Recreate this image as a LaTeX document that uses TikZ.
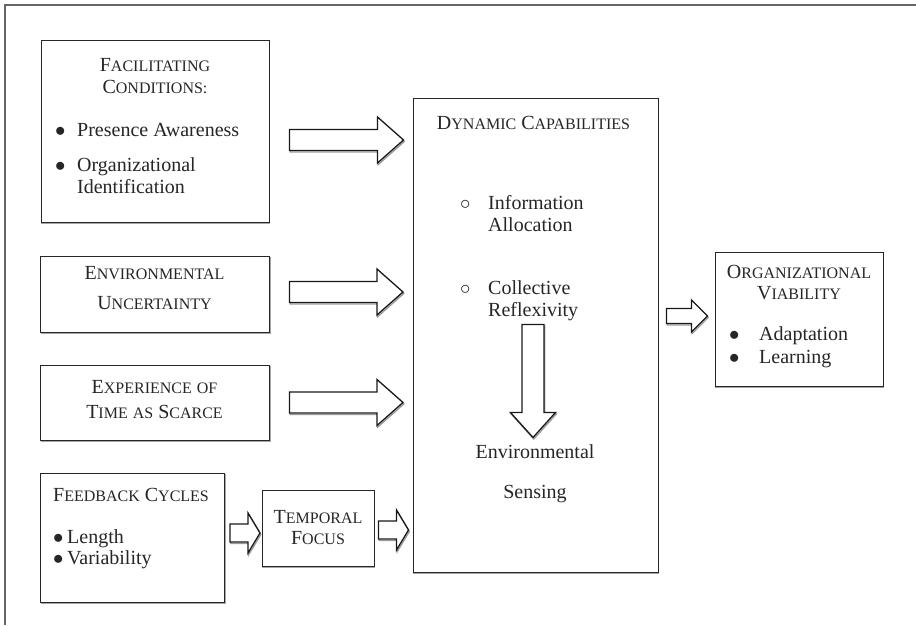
\documentclass[tikz,border=0pt]{standalone}
\usepackage{fontspec}
\setmainfont{Liberation Serif}
\usetikzlibrary{positioning,calc}

% small caps by hand: first letter full size, the rest smaller
\newcommand{\capt}[2]{#1{\fontsize{16}{22}\selectfont #2}}
% hollow block arrow: [rotation] {start} {length} {shaft half} {head half} {head length}
\newcommand{\fatarrow}[6][0]{%
  \draw[fat, shift={#2}, rotate=#1] (0pt,#4pt) -- ({#3pt-#6pt},#4pt) -- ({#3pt-#6pt},#5pt)
    -- (#3pt,0pt) -- ({#3pt-#6pt},-#5pt) -- ({#3pt-#6pt},-#4pt) -- (0pt,-#4pt) -- cycle;}

\tikzset{
  box/.style={draw=black!85, line width=1pt, fill=white,
    preaction={draw=black!35, line width=1pt, transform canvas={shift={(0.6pt,-1pt)}}}},
  txt/.style={text=black!85, font=\fontsize{20}{22}\selectfont, inner sep=0pt},
  fat/.style={draw=black!90, fill=white, line width=1.3pt, line join=miter,
    preaction={draw=black!40, line width=1.3pt, transform canvas={shift={(0.8pt,-1.5pt)}}}},
  frame/.style={draw=black!60, line width=1.6pt}
}

\begin{document}
\begin{tikzpicture}[x=1pt, y=-1pt]
  \useasboundingbox (0,0) rectangle (916,625);
  \draw[frame] (5,625) -- (5,5) -- (916,5);

  % boxes
  \node[box, minimum width=228pt, minimum height=182pt] (fac) at (155,131) {};
  \node[box, minimum width=229pt, minimum height=76pt, below=33pt of fac] (env) {};
  \node[box, minimum width=229pt, minimum height=75pt, below=32pt of env] (exp) {};
  \node[box, minimum width=184pt, minimum height=129pt, below=32pt of exp.south west, anchor=north west] (fb) {};
  \node[box, minimum width=112pt, minimum height=76pt] (tmp) at (318,528) {};
  \node[box, minimum width=245pt, minimum height=474pt] (dyn) at (535.5,335) {};
  \node[box, minimum width=168pt, minimum height=134pt] (org) at (799,319) {};

  % texts (multi-line nodes sit on their last line)
  \node[txt, align=center, anchor=base] (factitle) at (155,93) {\capt{F}{ACILITATING}\\\capt{C}{ONDITIONS:}};
  \node[txt, anchor=base west] (faclist) at (55,136.5) {\begin{tabular}[t]{@{}p{22pt}@{}l@{}}
    $\bullet$ & Presence Awareness\\[13pt]
    $\bullet$ & Organizational\\
              & Identification
  \end{tabular}};
  \node[txt, align=center, anchor=base] (envtitle) at (154.5,309) {\capt{E}{NVIRONMENTAL}\\[8pt]\capt{U}{NCERTAINTY}};
  \node[txt, align=center, anchor=base] (exptitle) at (154.5,418) {\capt{E}{XPERIENCE} {\fontsize{16}{22}\selectfont OF}\\[3pt]\capt{T}{IME} {\fontsize{16}{22}\selectfont AS} \capt{S}{CARCE}};
  \node[txt, anchor=base west] (fbtitle) at (53,501) {\capt{F}{EEDBACK} \capt{C}{YCLES}};
  \node[txt, anchor=base west] (fblist) at (53,543.5) {\begin{tabular}[t]{@{}p{14pt}@{}l@{}}
    $\bullet$ & Length\\[-1pt]
    $\bullet$ & Variability
  \end{tabular}};
  \node[txt, align=center, anchor=base] (tmptitle) at (318,544) {\capt{T}{EMPORAL}\\[-1pt]\capt{F}{OCUS}};
  \node[txt, anchor=base] (dyntitle) at (533.5,129) {\capt{D}{YNAMIC} \capt{C}{APABILITIES}};
  \node[txt, anchor=base west] (dynlist) at (460,209.5) {\begin{tabular}[t]{@{}p{28pt}@{}l@{}}
    $\circ$ & Information\\
            & Allocation\\[41pt]
    $\circ$ & Collective\\
            & Reflexivity
  \end{tabular}};
  \node[txt, align=center, anchor=base] (sensing) at (535,498.5) {Environmental\\[18pt]Sensing};
  \node[txt, align=center, anchor=base] (orgtitle) at (799,299) {\capt{O}{RGANIZATIONAL}\\[-1pt]\capt{V}{IABILITY}};
  \node[txt, anchor=base west] (orglist) at (729,340.5) {\begin{tabular}[t]{@{}p{30pt}@{}l@{}}
    $\bullet$ & Adaptation\\[1pt]
    $\bullet$ & Learning
  \end{tabular}};

  % arrows
  \fatarrow{($(fac.east)+(20,9)$)}{114}{10.5}{23}{26}
  \fatarrow{($(env.east)+(19.5,-2)$)}{113.5}{10.5}{23}{26}
  \fatarrow{($(exp.east)+(19.5,0)$)}{113.5}{10.5}{23}{26}
  \fatarrow{($(fb.east)+(5,-4.5)$)}{30}{9}{20}{12}
  \fatarrow{($(tmp.east)+(4,2)$)}{30}{9}{20}{12}
  \fatarrow{($(dyn.east)+(8,-19)$)}{41}{7.5}{16}{16}
  \fatarrow[-90]{($(dyn.north)+(-2.5,227)$)}{113}{11}{22.5}{25}
\end{tikzpicture}
\end{document}
